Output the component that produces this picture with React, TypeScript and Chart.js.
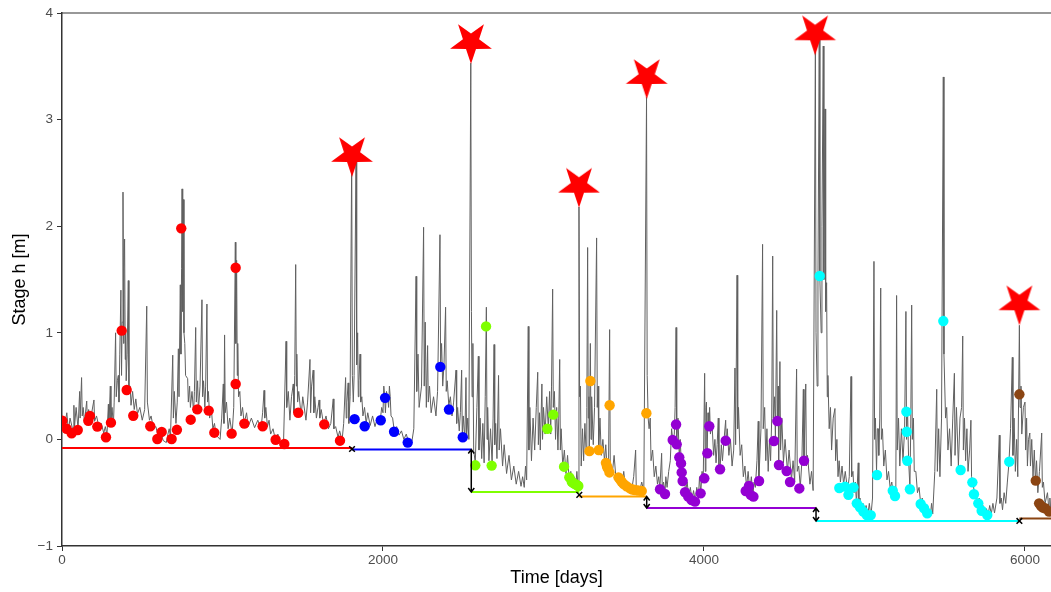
import React, { useEffect, useRef } from "react";
import { Chart, registerables } from "chart.js";

Chart.register(...registerables);

const xTicks = [0, 2000, 4000, 6000];
const yTicks = [-1, 0, 1, 2, 3, 4];
const xMin = 0;
const xMax = 6162;
const yMin = -1;
const yMax = 4;

// Stage hydrograph [day, stage m]: main peaks and recessions
const hydrograph: [number, number][] = [
  [0, 0.18], [15, 0.12], [40, 0.08], [70, 0.07], [74, 0.32], [78, 0.12], [100, 0.1], [110, 0.45], [113, 0.2],
  [122, 0.58], [126, 0.22], [140, 0.16], [154, 0.36], [158, 0.18], [175, 0.14], [199, 0.37], [203, 0.17],
  [230, 0.12], [260, 0.06], [280, 0.04], [289, 0.33], [292, 0.12], [301, 0.5], [305, 0.18], [320, 0.12],
  [334, 1.0], [338, 0.4], [351, 0.6], [355, 0.35], [367, 1.4], [371, 0.6], [380, 2.32], [384, 0.9], [390, 1.88],
  [394, 0.75], [400, 0.55], [413, 1.49], [417, 0.5], [430, 0.32], [450, 0.28], [470, 0.24], [500, 0.18],
  [528, 1.25], [532, 0.35], [545, 0.18], [570, 0.1], [600, 0.02], [630, -0.01], [650, -0.03], [668, 0.1],
  [676, 0.02], [690, 0.79], [694, 0.2], [710, 0.15], [725, 0.85], [729, 0.4], [737, 1.45], [741, 0.8],
  [748, 2.35], [752, 1.2], [756, 2.25], [760, 1.0], [770, 0.6], [783, 0.57], [787, 0.35], [800, 0.3],
  [820, 0.25], [833, 1.05], [837, 0.35], [850, 0.27], [872, 1.31], [876, 0.4], [890, 0.3], [903, 1.27],
  [907, 0.35], [920, 0.2], [940, 0.1], [960, 0.04], [985, 0.0], [1005, 0.52], [1009, 0.15], [1013, 0.98],
  [1017, 0.25], [1035, 0.1], [1060, 0.05], [1080, 1.85], [1083, 0.9], [1088, 1.68], [1092, 0.6], [1100, 0.4],
  [1115, 0.22], [1135, 0.15], [1160, 0.12], [1200, 0.11], [1240, 0.1], [1259, 0.46], [1263, 0.2], [1280, 0.12],
  [1300, 0.05], [1330, -0.01], [1360, -0.04], [1380, -0.05], [1396, 0.92], [1400, 0.3], [1420, 0.18],
  [1441, 0.52], [1445, 0.25], [1456, 1.64], [1460, 0.5], [1463, 0.8], [1468, 0.35], [1490, 0.22], [1520, 0.18],
  [1545, 0.75], [1549, 0.25], [1565, 0.65], [1569, 0.25], [1585, 0.2], [1602, 0.37], [1606, 0.2], [1630, 0.14],
  [1660, 0.1], [1690, 0.38], [1694, 0.1], [1720, 0.02], [1745, -0.01], [1767, 0.58], [1771, 0.2], [1783, 0.53],
  [1787, 0.15], [1805, 2.65], [1809, 0.6], [1815, 0.35], [1832, 2.63], [1836, 0.7], [1842, 1.0], [1846, 0.4],
  [1857, 0.8], [1861, 0.35], [1875, 0.22], [1895, 0.15], [1920, 0.13], [1950, 0.12], [1980, 0.14], [2000, 0.25],
  [2010, 0.42], [2015, 0.25], [2030, 0.38], [2035, 0.3], [2045, 0.4], [2050, 0.22], [2070, 0.08], [2100, 0.04],
  [2130, 0.0], [2160, -0.03], [2180, -0.02], [2206, 1.53], [2210, 0.45], [2225, 0.3], [2253, 1.99], [2257, 0.5],
  [2270, 0.3], [2278, 0.88], [2282, 0.35], [2300, 0.25], [2330, 0.22], [2355, 1.92], [2359, 0.7], [2372, 0.5],
  [2390, 1.24], [2394, 0.45], [2410, 0.32], [2430, 0.22], [2455, 0.65], [2459, 0.15], [2475, 0.08], [2490, 0.65],
  [2494, 0.03], [2510, 0.0], [2517, 0.58], [2521, 0.02], [2535, 0.0], [2547, 3.53], [2551, 1.2], [2555, 0.4],
  [2565, -0.1], [2575, -0.22], [2594, 0.78], [2598, -0.1], [2615, -0.18], [2630, -0.22], [2644, 1.24],
  [2648, 0.0], [2660, -0.2], [2680, -0.24], [2692, 0.89], [2696, -0.05], [2710, -0.18], [2720, 0.6],
  [2724, -0.1], [2745, -0.25], [2770, -0.32], [2800, -0.38], [2830, -0.42], [2860, -0.44], [2880, -0.45],
  [2895, -0.38], [2905, 1.06], [2909, -0.1], [2925, -0.2], [2945, -0.1], [2964, 0.63], [2968, -0.05],
  [2980, -0.1], [2990, 0.52], [2994, 0.0], [3010, 0.05], [3030, 0.1], [3045, 0.05], [3057, 1.41], [3061, 0.3],
  [3075, 0.0], [3090, -0.1], [3101, 0.75], [3105, -0.1], [3120, -0.25], [3140, -0.32], [3160, -0.38],
  [3180, -0.42], [3200, -0.45], [3215, -0.44], [3221, 2.18], [3225, 0.4], [3235, -0.25], [3250, -0.2],
  [3265, -0.1], [3275, 1.8], [3279, 0.2], [3285, -0.1], [3292, 0.9], [3296, 0.0], [3310, -0.05], [3331, 1.89],
  [3335, 0.3], [3344, -0.08], [3360, -0.15], [3380, -0.2], [3395, -0.25], [3405, -0.28], [3412, 1.03],
  [3416, -0.25], [3430, -0.3], [3450, -0.34], [3470, -0.37], [3490, -0.41], [3510, -0.44], [3530, -0.46],
  [3550, -0.47], [3574, -0.1], [3578, -0.47], [3600, -0.48], [3625, -0.49], [3642, 3.21], [3646, 0.6],
  [3652, 0.2], [3658, 0.1], [3670, -0.2], [3690, -0.35], [3710, -0.42], [3725, -0.46], [3736, -0.13],
  [3740, -0.46], [3757, -0.5], [3770, -0.45], [3790, -0.2], [3805, 0.0], [3815, 0.05], [3826, 1.05],
  [3830, 0.0], [3846, -0.17], [3860, -0.28], [3870, -0.4], [3885, -0.49], [3905, -0.54], [3925, -0.57],
  [3945, -0.58], [3965, -0.55], [3980, -0.5], [3995, -0.4], [4004, 0.62], [4008, -0.3], [4015, 0.35],
  [4019, -0.15], [4030, 0.1], [4040, 0.05], [4060, -0.15], [4075, -0.22], [4089, 0.2], [4093, -0.25],
  [4100, -0.28], [4115, -0.2], [4135, 0.18], [4139, -0.05], [4155, -0.15], [4175, -0.25], [4193, 0.67],
  [4197, -0.05], [4206, 1.54], [4210, 0.1], [4225, -0.15], [4245, -0.35], [4265, -0.45], [4285, -0.48],
  [4305, -0.52], [4320, -0.45], [4338, 0.17], [4342, -0.38], [4365, 1.83], [4369, 0.1], [4385, -0.2],
  [4400, -0.3], [4415, -0.2], [4428, 1.72], [4432, 0.2], [4445, 0.0], [4453, 1.21], [4457, 0.2], [4465, -0.2],
  [4473, 0.73], [4477, -0.1], [4495, -0.22], [4520, -0.3], [4545, -0.38], [4565, -0.4], [4577, 0.66],
  [4581, -0.3], [4600, -0.45], [4619, 0.47], [4623, -0.2], [4634, 0.52], [4638, -0.25], [4660, -0.42],
  [4680, -0.48], [4694, 3.68], [4698, 1.0], [4705, 0.5], [4718, 3.75], [4722, 1.5], [4730, 1.0], [4743, 3.69],
  [4747, 1.5], [4754, 3.1], [4758, 1.2], [4764, 1.47], [4768, 0.4], [4780, 0.1], [4795, -0.1], [4816, 0.29],
  [4820, -0.2], [4835, -0.35], [4850, -0.4], [4870, -0.42], [4895, -0.48], [4916, 0.59], [4920, -0.35],
  [4935, -0.5], [4950, -0.6], [4961, -0.22], [4965, -0.6], [4980, -0.66], [5000, -0.7], [5020, -0.72],
  [5040, -0.72], [5059, 1.67], [5063, 0.0], [5075, -0.3], [5085, 0.1], [5089, -0.15], [5101, 1.42], [5105, 0.0],
  [5120, -0.25], [5140, -0.38], [5160, -0.46], [5180, -0.52], [5195, -0.54], [5200, 1.35], [5204, -0.1],
  [5220, -0.25], [5240, -0.2], [5258, 1.2], [5262, 0.0], [5275, -0.2], [5283, -0.45], [5294, 1.26], [5298, 0.0],
  [5310, -0.3], [5330, -0.5], [5350, -0.6], [5370, -0.65], [5390, -0.7], [5410, -0.72], [5425, -0.7],
  [5450, 0.47], [5454, -0.3], [5470, -0.35], [5491, 3.4], [5495, 0.8], [5505, 0.2], [5520, -0.1], [5540, -0.25],
  [5560, 0.62], [5564, -0.15], [5585, -0.25], [5612, 0.97], [5616, -0.1], [5630, -0.2], [5645, -0.3],
  [5663, 0.18], [5667, -0.35], [5685, -0.5], [5705, -0.6], [5725, -0.66], [5750, -0.7], [5770, -0.71],
  [5790, -0.7], [5810, -0.69], [5840, 0.04], [5844, -0.6], [5860, -0.66], [5880, -0.6], [5900, -0.22],
  [5921, 0.77], [5925, -0.15], [5940, -0.3], [5955, -0.35], [5965, 1.07], [5969, 0.3], [5980, 0.05],
  [6000, 0.35], [6004, -0.1], [6015, -0.25], [6030, 0.06], [6034, -0.25], [6050, -0.35], [6065, -0.4],
  [6080, -0.5], [6104, 0.06], [6108, -0.45], [6125, -0.6], [6150, -0.68], [6162, -0.7],
];

// Smaller freshets visible on the recessions [day, stage m]
const hydrographMinor: [number, number][] = [
  [30, 0.25], [50, 0.2], [88, 0.3], [132, 0.3], [166, 0.28], [185, 0.25], [215, 0.22], [245, 0.15], [270, 0.12],
  [312, 0.3], [325, 0.35], [345, 0.55], [360, 0.8], [375, 1.1], [386, 1.6], [397, 1.0], [406, 0.8], [425, 0.5],
  [440, 0.45], [460, 0.38], [485, 0.3], [515, 0.28], [555, 0.22], [585, 0.12], [615, 0.08], [660, 0.05],
  [700, 0.45], [718, 0.35], [745, 1.6], [765, 0.9], [795, 0.5], [810, 0.45], [825, 0.45], [845, 0.55],
  [860, 0.5], [882, 0.55], [895, 0.5], [912, 0.45], [930, 0.3], [950, 0.15], [995, 0.2], [1025, 0.35],
  [1045, 0.2], [1070, 0.3], [1095, 0.9], [1108, 0.45], [1125, 0.3], [1150, 0.25], [1180, 0.2], [1220, 0.18],
  [1250, 0.25], [1270, 0.3], [1290, 0.18], [1315, 0.1], [1345, 0.05], [1410, 0.45], [1430, 0.4], [1450, 0.6],
  [1475, 0.45], [1500, 0.4], [1530, 0.35], [1555, 0.5], [1575, 0.4], [1595, 0.3], [1615, 0.28], [1645, 0.22],
  [1675, 0.15], [1705, 0.12], [1730, 0.08], [1755, 0.15], [1775, 0.35], [1795, 0.4], [1820, 0.6], [1850, 0.55],
  [1868, 0.4], [1885, 0.3], [1905, 0.25], [1935, 0.22], [1965, 0.2], [1992, 0.3], [2005, 0.5], [2022, 0.45],
  [2040, 0.5], [2060, 0.2], [2085, 0.12], [2115, 0.08], [2145, 0.05], [2192, 0.1], [2218, 0.8], [2240, 0.5],
  [2263, 1.1], [2290, 0.5], [2315, 0.4], [2340, 0.45], [2365, 0.9], [2380, 0.7], [2400, 0.55], [2420, 0.4],
  [2440, 0.35], [2465, 0.3], [2482, 0.25], [2500, 0.22], [2528, 0.2], [2560, 0.9], [2585, 0.3], [2605, 0.2],
  [2622, 0.15], [2637, 0.4], [2652, 0.3], [2670, 0.1], [2686, 0.2], [2702, 0.15], [2732, 0.1], [2755, -0.05],
  [2785, -0.15], [2815, -0.25], [2845, -0.3], [2870, -0.35], [2888, -0.25], [2915, 0.3], [2935, 0.2],
  [2955, 0.3], [2975, 0.25], [3000, 0.3], [3020, 0.4], [3038, 0.45], [3050, 0.5], [3068, 0.45], [3082, 0.3],
  [3095, 0.2], [3110, 0.1], [3130, -0.1], [3150, -0.15], [3170, -0.3], [3190, -0.35], [3208, -0.3],
  [3230, 0.5], [3243, 0.1], [3258, 0.15], [3270, 0.3], [3283, 0.4], [3300, 0.4], [3318, 0.3], [3340, 0.5],
  [3352, 0.2], [3370, 0.0], [3388, -0.05], [3440, -0.15], [3500, -0.3], [3562, -0.35], [3612, -0.4],
  [3665, 0.2], [3680, -0.1], [3700, -0.25], [3718, -0.35], [3748, -0.4], [3762, -0.35], [3780, -0.3],
  [3798, 0.1], [3820, 0.3], [3838, 0.2], [3852, 0.0], [3875, -0.3], [3895, -0.4], [3915, -0.45], [3935, -0.48],
  [3955, -0.45], [3972, -0.35], [3988, -0.3], [4012, 0.3], [4025, 0.25], [4035, 0.3], [4050, 0.15], [4068, 0.0],
  [4082, -0.05], [4108, -0.05], [4125, 0.0], [4145, 0.1], [4165, 0.0], [4185, -0.1], [4215, 0.3], [4235, -0.05],
  [4255, -0.25], [4275, -0.3], [4295, -0.35], [4312, -0.4], [4330, -0.2], [4355, 0.1], [4378, 0.3], [4392, 0.1],
  [4408, 0.0], [4422, 0.2], [4440, 0.4], [4462, 0.5], [4485, 0.2], [4505, 0.0], [4530, -0.1], [4555, -0.2],
  [4590, -0.25], [4610, -0.2], [4645, -0.15], [4670, -0.3], [4710, 1.5], [4735, 2.0], [4772, 0.6], [4788, 0.3],
  [4805, 0.2], [4828, 0.0], [4842, -0.2], [4860, -0.25], [4880, -0.3], [4905, -0.35], [4928, -0.3],
  [4943, -0.4], [4972, -0.55], [4990, -0.6], [5010, -0.62], [5030, -0.6], [5050, -0.55], [5068, 0.2],
  [5080, 0.1], [5095, 0.2], [5112, 0.1], [5130, -0.1], [5150, -0.3], [5170, -0.4], [5188, -0.45], [5212, 0.2],
  [5230, 0.1], [5250, 0.1], [5268, 0.3], [5288, 0.1], [5305, 0.2], [5320, -0.3], [5340, -0.45], [5360, -0.55],
  [5380, -0.62], [5400, -0.65], [5418, -0.6], [5438, -0.3], [5462, 0.1], [5480, 0.2], [5512, 0.3], [5530, 0.1],
  [5550, 0.2], [5573, 0.3], [5595, 0.2], [5605, 0.3], [5623, 0.2], [5638, 0.1], [5655, -0.1], [5675, -0.4],
  [5695, -0.5], [5715, -0.55], [5738, -0.62], [5760, -0.65], [5780, -0.62], [5800, -0.6], [5825, -0.55],
  [5852, -0.55], [5870, -0.5], [5890, -0.4], [5910, 0.1], [5932, 0.2], [5948, 0.0], [5975, 0.5], [5990, 0.3],
  [6010, 0.2], [6022, 0.0], [6042, 0.0], [6058, -0.1], [6072, -0.2], [6090, -0.3], [6115, -0.4], [6140, -0.5],
  [6155, -0.55],
];

// Gaugings [day, stage] per stable period
const gaugingsP1: [number, number][] = [
  [2, 0.175], [29, 0.1], [60, 0.057], [98, 0.088], [164, 0.175], [174, 0.22], [220, 0.12], [274, 0.02],
  [305, 0.157], [372, 1.02], [403, 0.463], [444, 0.222], [550, 0.123], [594, 0.004], [621, 0.07], [683, 0.004],
  [716, 0.09], [743, 1.98], [802, 0.185], [843, 0.282], [914, 0.27], [949, 0.063], [1057, 0.054], [1082, 1.61],
  [1082, 0.52], [1136, 0.148], [1250, 0.123], [1331, -0.003], [1385, -0.043], [1472, 0.25], [1634, 0.141],
  [1732, -0.012],
];
const gaugingsP2: [number, number][] = [
  [1823, 0.19], [1886, 0.123], [1986, 0.18], [2013, 0.39], [2069, 0.072], [2154, -0.03], [2357, 0.68],
  [2411, 0.28], [2497, 0.02],
];
const gaugingsP3: [number, number][] = [
  [2575, -0.243], [2642, 1.06], [2677, -0.246], [3024, 0.1], [3061, 0.232], [3128, -0.256], [3161, -0.356],
  [3176, -0.397], [3186, -0.41], [3196, -0.418], [3210, -0.43], [3217, -0.437],
];
const gaugingsP4: [number, number][] = [
  [3286, -0.11], [3292, 0.548], [3344, -0.1], [3389, -0.22], [3395, -0.25], [3400, -0.27], [3411, -0.31],
  [3412, 0.32], [3467, -0.356], [3477, -0.375], [3487, -0.397], [3500, -0.42], [3518, -0.44], [3539, -0.46],
  [3555, -0.47], [3570, -0.475], [3590, -0.48], [3612, -0.484], [3641, 0.245],
];
const gaugingsP5: [number, number][] = [
  [3726, -0.468], [3757, -0.512], [3805, -0.006], [3826, 0.14], [3830, -0.046], [3846, -0.168], [3857, -0.225],
  [3861, -0.31], [3867, -0.39], [3882, -0.496], [3902, -0.537], [3923, -0.57], [3944, -0.584], [3979, -0.506],
  [4002, -0.365], [4021, -0.13], [4033, 0.123], [4100, -0.28], [4135, -0.012], [4260, -0.484], [4280, -0.437],
  [4291, -0.52], [4308, -0.537], [4343, -0.39], [4436, -0.015], [4457, 0.173], [4467, -0.24], [4515, -0.296],
  [4536, -0.4], [4594, -0.46], [4623, -0.2],
];
const gaugingsP6: [number, number][] = [
  [4721, 1.533], [4843, -0.456], [4879, -0.443], [4900, -0.52], [4931, -0.45], [4952, -0.6], [4972, -0.637],
  [4993, -0.678], [5014, -0.71], [5039, -0.71], [5078, -0.334], [5176, -0.481], [5190, -0.531], [5261, 0.26],
  [5263, 0.072], [5267, -0.2], [5283, -0.468], [5350, -0.606], [5371, -0.646], [5391, -0.693], [5491, 1.11],
  [5599, -0.287], [5672, -0.403], [5682, -0.515], [5709, -0.6], [5730, -0.669], [5765, -0.71], [5902, -0.209],
];
const gaugingsP7: [number, number][] = [
  [5965, 0.423], [6067, -0.387], [6088, -0.6], [6100, -0.625], [6112, -0.64], [6125, -0.646], [6150, -0.678],
];
const gaugings = [gaugingsP1, gaugingsP2, gaugingsP3, gaugingsP4, gaugingsP5, gaugingsP6, gaugingsP7];

// Stable periods: colour, start, end, reference level
const periodColors = ["#FF0000", "#0000FF", "#7FFF00", "#FFA500", "#9400D3", "#00FFFF", "#8B4513"];
const periodStart = [0, 1807, 2550, 3223, 3643, 4698, 5965];
const periodEnd = [1807, 2550, 3223, 3643, 4698, 5965, 6162];
const periodLevel = [-0.081, -0.095, -0.493, -0.536, -0.643, -0.765, -0.742];

// Detected shifts without big flood (x markers)
const shiftDays = [1807, 3223, 5965];
const shiftStage = [-0.09, -0.52, -0.765];

// Shift arrows
const arrowDays = [2550, 3643, 4698];
const arrowFrom = [-0.095, -0.536, -0.643];
const arrowTo = [-0.493, -0.643, -0.765];

// Floods (stars)
const floodDays = [1807, 2548, 3221, 3643, 4692, 5965];
const floodStage = [2.668, 3.728, 2.38, 3.4, 3.81, 1.277];

const FONT = "'Liberation Sans', Arial, Helvetica, sans-serif";

function makeStar(): HTMLCanvasElement {
  const c = document.createElement("canvas");
  c.width = 48;
  c.height = 48;
  const g = c.getContext("2d")!;
  g.fillStyle = "#FF0000";
  g.beginPath();
  for (let k = 0; k < 10; k++) {
    const r = k % 2 === 0 ? 22 : 8.5;
    const a = Math.PI / 2 + (k * Math.PI) / 5;
    const px = 24 + r * Math.cos(a);
    const py = 24 + r * Math.sin(a);
    if (k === 0) g.moveTo(px, py);
    else g.lineTo(px, py);
  }
  g.closePath();
  g.fill();
  return c;
}

const decorPlugin = {
  id: "decor",
  beforeDatasetsDraw(chart: any) {
    const { ctx, chartArea } = chart;
    ctx.save();
    ctx.strokeStyle = "#333333";
    ctx.lineWidth = 1.2;
    ctx.beginPath();
    ctx.moveTo(chartArea.left, chartArea.top);
    ctx.lineTo(chartArea.right, chartArea.top);
    ctx.stroke();
    ctx.restore();
  },
  afterDatasetsDraw(chart: any) {
    const { ctx, scales } = chart;
    const xs = scales.x;
    const ys = scales.y;
    ctx.save();
    ctx.strokeStyle = "#000000";
    ctx.lineWidth = 1.5;
    arrowDays.forEach((d, i) => {
      const x = xs.getPixelForValue(d);
      const y1 = ys.getPixelForValue(arrowFrom[i]);
      const y2 = ys.getPixelForValue(arrowTo[i]);
      const h = 4;
      const w = 3;
      ctx.beginPath();
      ctx.moveTo(x, y1);
      ctx.lineTo(x, y2);
      ctx.moveTo(x - w, y1 + h);
      ctx.lineTo(x, y1);
      ctx.lineTo(x + w, y1 + h);
      ctx.moveTo(x - w, y2 - h);
      ctx.lineTo(x, y2);
      ctx.lineTo(x + w, y2 - h);
      ctx.stroke();
    });
    ctx.restore();
  },
};

const fmt = (v: number) => (v < 0 ? "\u2212" + Math.abs(v) : String(v));

export default function App() {
  const ref = useRef<HTMLCanvasElement | null>(null);

  useEffect(() => {
    if (!ref.current) return;
    const star = makeStar();
    const stageSeries = [...hydrograph, ...hydrographMinor].sort((a, b) => a[0] - b[0]);
    const datasets: any[] = [];

    datasets.push({
      label: "floods",
      data: floodDays.map((d, i) => ({ x: d, y: floodStage[i] })),
      pointStyle: star,
      pointRadius: 1,
      showLine: false,
      clip: false,
      order: 0,
    });
    datasets.push({
      label: "shifts",
      data: shiftDays.map((d, i) => ({ x: d, y: shiftStage[i] })),
      pointStyle: "crossRot",
      pointRadius: 4,
      borderColor: "#000000",
      borderWidth: 1.5,
      showLine: false,
      order: 1,
    });
    gaugings.forEach((g, i) => {
      datasets.push({
        label: "gaugings" + (i + 1),
        data: g.map(([d, h]) => ({ x: d, y: h })),
        backgroundColor: periodColors[i],
        borderWidth: 0,
        pointRadius: 5.2,
        showLine: false,
        order: 2,
      });
    });
    periodColors.forEach((c, i) => {
      datasets.push({
        label: "level" + (i + 1),
        data: [
          { x: periodStart[i], y: periodLevel[i] },
          { x: periodEnd[i], y: periodLevel[i] },
        ],
        borderColor: c,
        borderWidth: 2,
        pointRadius: 0,
        showLine: true,
        order: 3,
      });
    });
    datasets.push({
      label: "stage",
      data: stageSeries.map(([d, h]) => ({ x: d, y: h })),
      borderColor: "#606060",
      borderWidth: 1,
      pointRadius: 0,
      showLine: true,
      tension: 0,
      order: 4,
    });

    const chart = new Chart(ref.current, {
      type: "scatter",
      data: { datasets },
      options: {
        animation: false,
        responsive: true,
        maintainAspectRatio: false,
        events: [],
        layout: { autoPadding: false, padding: { top: 13, right: 0, bottom: 0, left: 0 } },
        plugins: { legend: { display: false }, tooltip: { enabled: false } },
        scales: {
          x: {
            type: "linear",
            min: xMin,
            max: xMax,
            afterBuildTicks: (s: any) => {
              s.ticks = xTicks.map((v) => ({ value: v }));
            },
            afterFit: (s: any) => {
              s.height = 46;
              s.paddingLeft = 0;
              s.paddingRight = 0;
            },
            grid: { display: true, drawOnChartArea: false, drawTicks: true, tickLength: 5, tickColor: "#333333", tickWidth: 1 },
            border: { display: true, color: "#333333", width: 1.5 },
            ticks: { color: "#4D4D4D", font: { family: FONT, size: 13.5 }, padding: 1, maxRotation: 0, callback: (v: any) => fmt(Number(v)) },
            title: { display: true, text: "Time [days]", color: "#000000", font: { family: FONT, size: 18 }, padding: { top: 0, bottom: 3 } },
          },
          y: {
            type: "linear",
            min: yMin,
            max: yMax,
            afterBuildTicks: (s: any) => {
              s.ticks = yTicks.map((v) => ({ value: v }));
            },
            afterFit: (s: any) => {
              s.width = 62;
              s.paddingTop = 0;
              s.paddingBottom = 0;
            },
            grid: { display: true, drawOnChartArea: false, drawTicks: true, tickLength: 5, tickColor: "#333333", tickWidth: 1 },
            border: { display: true, color: "#333333", width: 1.5 },
            ticks: { color: "#4D4D4D", font: { family: FONT, size: 13.5 }, padding: 4, callback: (v: any) => fmt(Number(v)) },
            title: { display: true, text: "Stage h [m]", color: "#000000", font: { family: FONT, size: 18 }, padding: { top: 9, bottom: 0 } },
          },
        },
      },
      plugins: [decorPlugin],
    });
    return () => chart.destroy();
  }, []);

  return (
    <div style={{ position: "fixed", left: 0, top: 0, width: 1051, height: 592, background: "#ffffff" }}>
      <canvas ref={ref} />
    </div>
  );
}
